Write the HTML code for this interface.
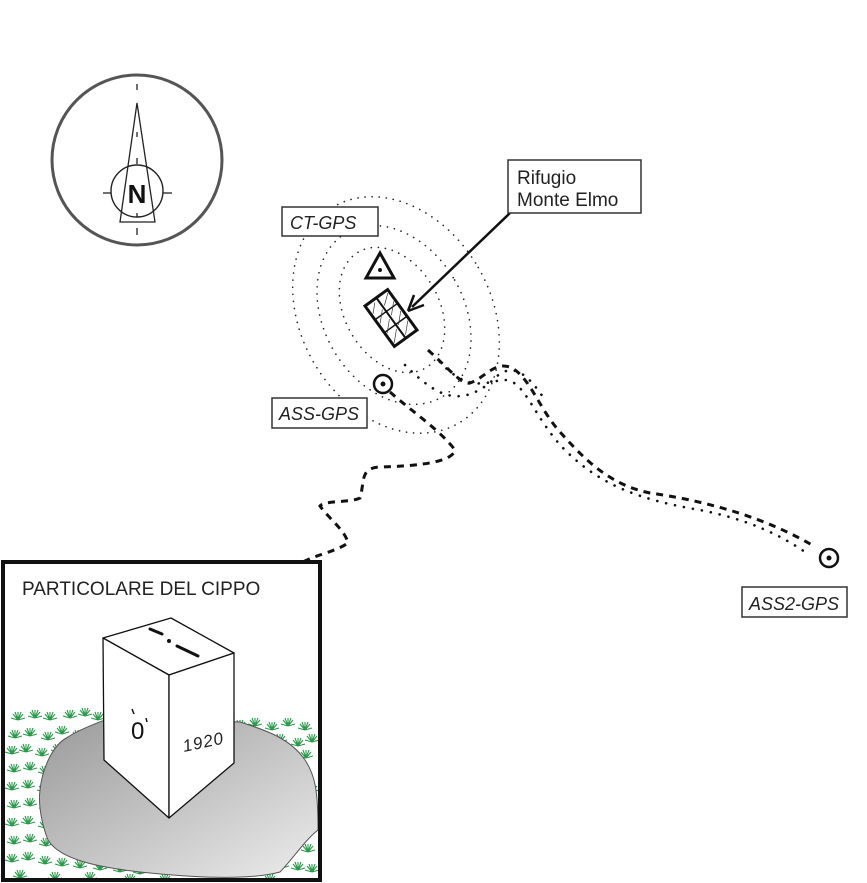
<!DOCTYPE html>
<html><head><meta charset="utf-8"><style>
html,body{margin:0;padding:0;background:#fff;overflow:hidden;width:867px;height:883px;}
svg{display:block;}
text{font-family:"Liberation Sans",Arial,sans-serif;}
</style></head><body>
<svg width="867" height="883" viewBox="0 0 867 883" xmlns="http://www.w3.org/2000/svg">
<defs>
<g id="g" stroke="#2a9a4a" stroke-width="1.1" fill="none">
<path d="M0 2 L0 -6 M0 2 L-5 -4 M0 2 L5 -4 M0 2 L-7 0 M0 2 L7 0 M0 2 L-3 -6 M0 2 L3 -6"/>
</g>
<linearGradient id="gr" x1="0" y1="0" x2="1" y2="1">
<stop offset="0" stop-color="#999"/><stop offset="1" stop-color="#ececec"/>
</linearGradient>
<clipPath id="cp"><rect x="5" y="564" width="313" height="315"/></clipPath>
</defs>

<!-- compass -->
<circle cx="137" cy="160" r="85" fill="none" stroke="#555" stroke-width="3"/>
<path d="M137 103 L120 222 L155 222 Z" fill="none" stroke="#222" stroke-width="1.3"/>
<circle cx="137" cy="191" r="26" fill="none" stroke="#222" stroke-width="1.4"/>
<g stroke="#222" stroke-width="1.3">
<line x1="103" y1="193" x2="111" y2="193"/><line x1="163" y1="193" x2="172" y2="193"/>
<line x1="137" y1="84" x2="137" y2="90"/><line x1="137" y1="132" x2="137" y2="137"/>
<line x1="137" y1="158" x2="137" y2="164"/><line x1="137" y1="228" x2="137" y2="235"/>
<line x1="137" y1="213" x2="137" y2="217"/>
</g>
<text x="137" y="203" font-size="26" font-weight="bold" text-anchor="middle" fill="#111">N</text>

<!-- contours -->
<g fill="none" stroke="#222" stroke-width="1.6" stroke-dasharray="0.1 7" stroke-linecap="round">
<ellipse cx="396" cy="315" rx="95" ry="125" transform="rotate(-30 396 315)"/>
<ellipse cx="394" cy="315" rx="70" ry="95" transform="rotate(-30 394 315)"/>
<ellipse cx="392" cy="310" rx="47" ry="67" transform="rotate(-30 392 310)"/>
</g>
<g fill="none" stroke="#111" stroke-width="2.6" stroke-dasharray="0.1 9" stroke-linecap="round">
<path d="M440 362 C470 395 490 380 505 380 C525 380 535 420 565 450 C600 485 640 500 700 510 C750 520 780 535 805 552"/>
<path d="M405 365 C440 400 460 405 490 383 C510 360 525 370 545 400"/>
</g>

<!-- dashed trails -->
<g fill="none" stroke="#111" stroke-width="3" stroke-dasharray="7 6">
<path d="M428 350 C450 370 462 385 470 383 C485 378 495 360 512 368 C530 378 540 410 560 432 C585 460 610 485 650 493 C700 500 760 515 812 545"/>
<path d="M390 392 C410 410 440 430 455 450 C452 462 420 466 380 467 C360 468 365 480 360 498 C350 503 325 500 320 506 C330 520 345 530 348 543 C335 552 315 555 303 562"/>
</g>

<!-- triangle -->
<path d="M380 253 L366 278 L394 278 Z" fill="none" stroke="#111" stroke-width="3"/>
<circle cx="380" cy="270" r="2" fill="#111"/>

<!-- building -->
<g transform="translate(391 318) rotate(-36)">
<rect x="-14" y="-25" width="28" height="50" fill="#fff" stroke="#111" stroke-width="3"/>
<line x1="0" y1="-25" x2="0" y2="25" stroke="#111" stroke-width="2"/>
<line x1="-14" y1="-8" x2="14" y2="-8" stroke="#111" stroke-width="1.5"/>
<line x1="-14" y1="8" x2="14" y2="8" stroke="#111" stroke-width="1.5"/>
<g stroke="#333" stroke-width="0.7">
<path d="M-12 -14 L-4 -22 M-12 -2 L-2 -12 M-12 10 L-2 0 M-12 22 L-2 12 M2 -14 L12 -22 M2 -2 L12 -12 M2 10 L12 0 M2 22 L12 12"/>
</g>
</g>

<!-- arrow -->
<line x1="510" y1="213" x2="412" y2="307" stroke="#111" stroke-width="2.5"/>
<path d="M408 311 L414 295 M408 311 L424 305" stroke="#111" stroke-width="2.5" fill="none"/>

<!-- GPS points -->
<circle cx="383" cy="384" r="9" fill="none" stroke="#111" stroke-width="2.5"/>
<circle cx="383" cy="384" r="2.5" fill="#111"/>
<circle cx="829" cy="558" r="9" fill="none" stroke="#111" stroke-width="2.5"/>
<circle cx="829" cy="558" r="2.5" fill="#111"/>

<!-- labels -->
<g fill="#fff" stroke="#333" stroke-width="1.5">
<rect x="282" y="207" width="96" height="29"/>
<rect x="508" y="160" width="133" height="53"/>
<rect x="272" y="398" width="95" height="30"/>
<rect x="742" y="587" width="105" height="30"/>
</g>
<g fill="#222" font-size="18" font-style="italic">
<text x="290" y="229">CT-GPS</text>
<text x="279" y="420">ASS-GPS</text>
<text x="749" y="610">ASS2-GPS</text>
</g>
<text x="517" y="184" font-size="19" fill="#222">Rifugio</text>
<text x="517" y="206" font-size="19" fill="#222">Monte Elmo</text>

<!-- detail box -->
<g clip-path="url(#cp)">
<g>
<use href="#g" x="18" y="718"/><use href="#g" x="35" y="716"/><use href="#g" x="50" y="718"/><use href="#g" x="70" y="716"/><use href="#g" x="85" y="714"/><use href="#g" x="98" y="718"/>
<use href="#g" x="15" y="736"/><use href="#g" x="30" y="734"/><use href="#g" x="48" y="738"/><use href="#g" x="62" y="732"/><use href="#g" x="78" y="736"/><use href="#g" x="95" y="733"/>
<use href="#g" x="12" y="752"/><use href="#g" x="26" y="750"/><use href="#g" x="42" y="754"/><use href="#g" x="58" y="750"/>
<use href="#g" x="14" y="770"/><use href="#g" x="30" y="768"/><use href="#g" x="45" y="772"/>
<use href="#g" x="12" y="788"/><use href="#g" x="28" y="786"/><use href="#g" x="44" y="790"/>
<use href="#g" x="14" y="806"/><use href="#g" x="30" y="804"/><use href="#g" x="46" y="808"/>
<use href="#g" x="12" y="824"/><use href="#g" x="28" y="822"/><use href="#g" x="45" y="826"/>
<use href="#g" x="14" y="842"/><use href="#g" x="30" y="840"/><use href="#g" x="46" y="844"/><use href="#g" x="62" y="846"/>
<use href="#g" x="12" y="860"/><use href="#g" x="28" y="858"/><use href="#g" x="45" y="862"/><use href="#g" x="62" y="864"/><use href="#g" x="80" y="866"/><use href="#g" x="100" y="868"/><use href="#g" x="120" y="870"/><use href="#g" x="140" y="872"/>
<use href="#g" x="20" y="876"/><use href="#g" x="55" y="878"/><use href="#g" x="90" y="878"/><use href="#g" x="130" y="880"/><use href="#g" x="165" y="880"/>
<use href="#g" x="240" y="726"/><use href="#g" x="255" y="724"/><use href="#g" x="272" y="728"/><use href="#g" x="288" y="724"/><use href="#g" x="305" y="728"/>
<use href="#g" x="262" y="742"/><use href="#g" x="280" y="740"/><use href="#g" x="298" y="744"/><use href="#g" x="312" y="740"/>
<use href="#g" x="290" y="758"/><use href="#g" x="306" y="756"/><use href="#g" x="300" y="774"/><use href="#g" x="312" y="790"/>
<use href="#g" x="305" y="832"/><use href="#g" x="292" y="848"/><use href="#g" x="308" y="850"/><use href="#g" x="282" y="866"/><use href="#g" x="298" y="868"/><use href="#g" x="312" y="870"/><use href="#g" x="270" y="880"/>
</g>
<path d="M40 790 C42 770 52 745 68 737 C82 728 100 722 110 718 L240 722 C265 730 290 738 305 760 C315 775 318 790 318 830 C305 840 292 860 280 872 C250 880 200 878 150 873 C100 868 60 860 48 840 C42 825 38 805 40 790 Z" fill="url(#gr)" stroke="#555" stroke-width="1"/>
</g>

<!-- pillar -->
<g stroke="#111" stroke-width="1.3" fill="#fff" stroke-linejoin="round">
<path d="M103 638 L171 618 L234 653 L169 675 Z"/>
<path d="M103 638 L169 675 L169 818 L104 760 Z"/>
<path d="M169 675 L234 653 L234 763 L169 818 Z"/>
</g>
<g stroke="#111" stroke-width="3" stroke-linecap="round">
<line x1="150" y1="629" x2="162" y2="634"/><line x1="177" y1="646" x2="198" y2="656"/>
</g>
<circle cx="169" cy="641" r="2" fill="#111"/>
<text x="131" y="739" font-size="24" fill="#111">0</text>
<line x1="132" y1="709" x2="134" y2="714" stroke="#111" stroke-width="1.5"/>
<line x1="146" y1="718" x2="147" y2="722" stroke="#111" stroke-width="1.5"/>
<text x="184" y="752" font-size="17" font-style="italic" fill="#222" transform="rotate(-12 184 752)" letter-spacing="1">1920</text>

<text x="22" y="595" font-size="19" fill="#222">PARTICOLARE DEL CIPPO</text>
<rect x="3" y="562" width="317" height="318" fill="none" stroke="#111" stroke-width="4"/>
</svg>
</body></html>
